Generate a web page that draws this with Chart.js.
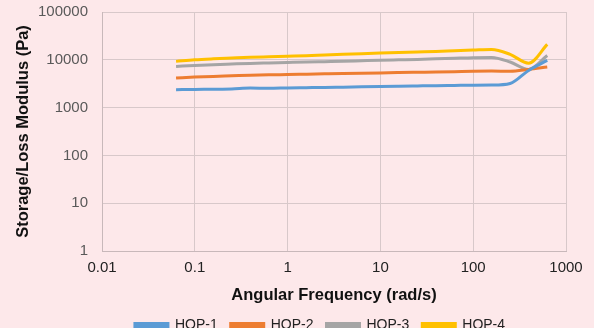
<!DOCTYPE html>
<html>
<head>
<meta charset="utf-8">
<script src="https://cdn.jsdelivr.net/npm/chart.js@4"></script>
<style>
  html, body { margin: 0; padding: 0; background: #fde8ea; }
  #wrap { width: 594px; height: 328px; }
</style>
</head>
<body>
<div id="wrap"><canvas id="chart1" width="594" height="328"></canvas></div>
<script>
// angular frequency, rad/s
const freq = [0.0628, 0.0995, 0.158, 0.25, 0.396, 0.628, 0.995, 1.58, 2.5, 3.96, 6.28,
              9.95, 15.8, 25, 39.6, 62.8, 99.5, 158, 250, 396, 628];
const hop1 = [2370, 2400, 2420, 2450, 2560, 2540, 2580, 2610, 2640, 2680, 2720,
              2760, 2800, 2840, 2880, 2910, 2940, 2960, 3200, 6000, 9700];
const hop2 = [4150, 4350, 4500, 4620, 4750, 4850, 4920, 5000, 5080, 5160, 5240,
              5320, 5400, 5480, 5560, 5650, 5750, 5800, 5750, 6300, 7050];
const hop3 = [7280, 7600, 7900, 8150, 8400, 8600, 8800, 9000, 9150, 9300, 9550,
              9800, 10000, 10200, 10500, 10800, 11100, 11200, 9000, 6300, 12300];
const hop4 = [9270, 10000, 10500, 10900, 11300, 11600, 11900, 12200, 12600, 13000, 13400,
              13800, 14200, 14600, 15000, 15500, 16000, 16500, 13000, 8500, 21000];
const xTicks = [0.01, 0.1, 1, 10, 100, 1000];
const yTicks = [1, 10, 100, 1000, 10000, 100000];

function pts(vals) {
  return freq.map((f, i) => ({ x: f, y: vals[i] }));
}

function series(label, vals, color) {
  return {
    label: label,
    data: pts(vals),
    borderColor: color,
    backgroundColor: color,
    borderWidth: 3,
    pointRadius: 0,
    cubicInterpolationMode: 'monotone',
    fill: false
  };
}

// legend sits a bit right of centre in the original
const legendShift = {
  id: 'legendShift',
  afterLayout(chart) {
    if (chart.legend) {
      chart.legend.left += 35;
      chart.legend.right += 35;
    }
  }
};

const ctx = document.getElementById('chart1');
new Chart(ctx, {
  type: 'line',
  data: {
    datasets: [
      series('HOP-1', hop1, '#5b9bd5'),
      series('HOP-2', hop2, '#ed7d31'),
      series('HOP-3', hop3, '#a5a5a5'),
      series('HOP-4', hop4, '#ffc000')
    ]
  },
  plugins: [legendShift],
  options: {
    responsive: false,
    animation: false,
    layout: { padding: { left: 4, right: 28, top: 12, bottom: -14 } },
    plugins: {
      legend: {
        position: 'bottom',
        labels: {
          boxWidth: 33,
          boxHeight: 3,
          padding: 13,
          color: '#222',
          font: { family: 'Liberation Sans', size: 14 }
        }
      },
      tooltip: { enabled: false }
    },
    scales: {
      x: {
        type: 'logarithmic',
        min: 0.01,
        max: 1000,
        afterBuildTicks: s => { s.ticks = xTicks.map(v => ({ value: v })); },
        afterFit: s => { s.height = 54; s.paddingLeft = 0; s.paddingRight = 0; },
        ticks: {
          color: '#222',
          font: { family: 'Liberation Sans', size: 15 },
          padding: 8,
          maxRotation: 0,
          callback: v => String(v)
        },
        grid: { color: '#d8c8ca', drawTicks: false },
        border: { color: '#c8b8ba' },
        title: {
          display: true,
          text: 'Angular Frequency (rad/s)',
          color: '#111',
          font: { family: 'Liberation Sans', size: 16.5, weight: 'bold' },
          padding: { top: 0, bottom: 0 }
        }
      },
      y: {
        type: 'logarithmic',
        min: 1,
        max: 100000,
        afterBuildTicks: s => { s.ticks = yTicks.map(v => ({ value: v })); },
        afterFit: s => { s.width = 98; s.paddingTop = 0; s.paddingBottom = 0; },
        ticks: {
          color: '#595959',
          font: { family: 'Liberation Sans', size: 15 },
          padding: 14,
          callback: v => String(v)
        },
        grid: { color: '#d8c8ca', drawTicks: false },
        border: { color: '#c8b8ba' },
        title: {
          display: true,
          text: 'Storage/Loss Modulus (Pa)',
          color: '#111',
          font: { family: 'Liberation Sans', size: 16.5, weight: 'bold' },
          padding: { top: 10, bottom: 0 }
        }
      }
    }
  }
});
</script>
</body>
</html>
